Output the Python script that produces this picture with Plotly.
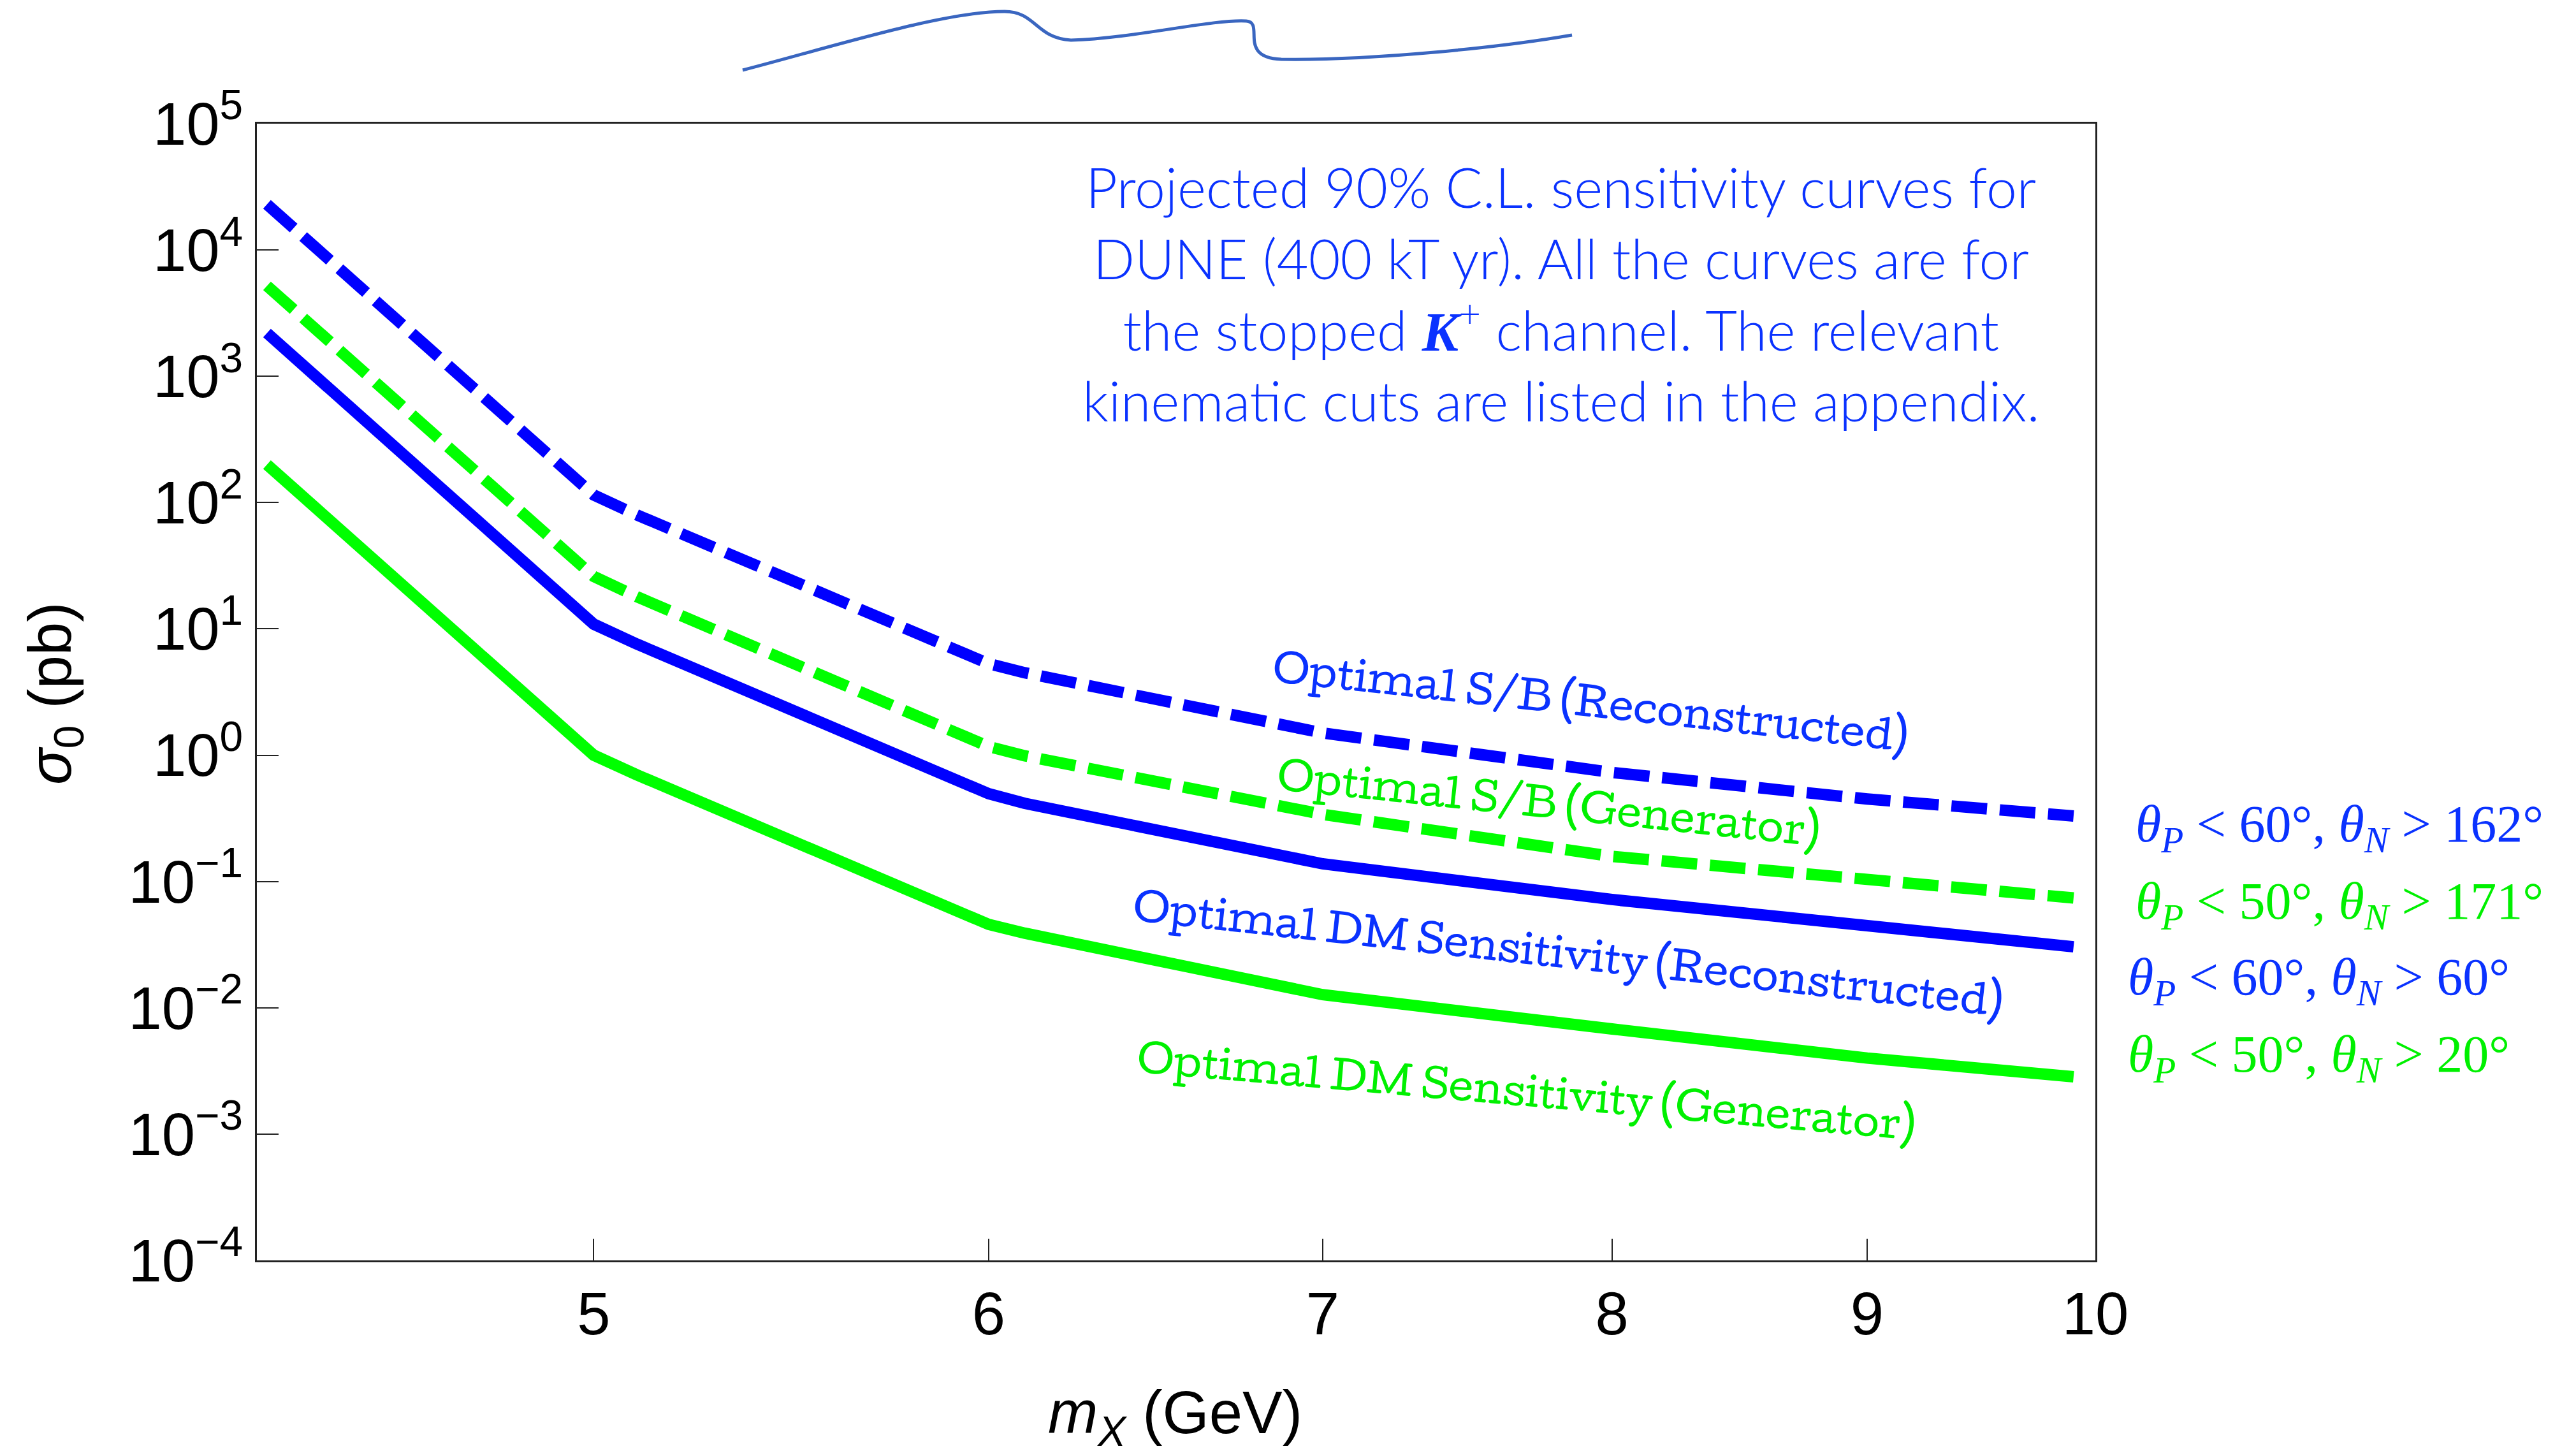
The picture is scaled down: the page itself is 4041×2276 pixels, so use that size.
import math
import plotly.graph_objects as go

# ---------------- data ----------------
mass_gev = [4.3, 5.0, 5.1, 5.9, 6.0, 6.1, 7.0, 8.0, 9.0, 9.9]
sb_reconstructed = [2.3e4, 115, 80, 7.0, 5.3, 4.5, 1.5, 0.73, 0.45, 0.33]
sb_generator = [5.2e3, 26, 18, 1.58, 1.17, 0.99, 0.34, 0.158, 0.102, 0.074]
dm_reconstructed = [2.2e3, 10.9, 7.6, 0.64, 0.495, 0.416, 0.138, 0.072, 0.0436, 0.0304]
dm_generator = [200, 1.0, 0.70, 0.059, 0.0457, 0.039, 0.0127, 0.0068, 0.0040, 0.00284]

x_tick_vals = [5, 6, 7, 8, 9, 10]
x_tick_text = ["5", "6", "7", "8", "9", "10"]
y_tick_vals = [1e-4, 1e-3, 1e-2, 1e-1, 1e0, 1e1, 1e2, 1e3, 1e4, 1e5]
y_tick_text = ["10<sup>−4</sup>", "10<sup>−3</sup>", "10<sup>−2</sup>", "10<sup>−1</sup>",
               "10<sup>0</sup>", "10<sup>1</sup>", "10<sup>2</sup>", "10<sup>3</sup>",
               "10<sup>4</sup>", "10<sup>5</sup>"]

curve_labels = ["Optimal S/B (Reconstructed)", "Optimal S/B (Generator)",
                "Optimal DM Sensitivity (Reconstructed)", "Optimal DM Sensitivity (Generator)"]
curve_label_mass = [7.92, 7.77, 7.84, 7.69]
curve_label_sigma = [2.67, 0.42, 0.027, 0.0022]
curve_label_angle = [6.3, 6.0, 6.3, 5.0]

cut_labels = ["<i>θ</i><sub><i>P</i></sub> &lt; 60°, <i>θ</i><sub><i>N</i></sub> &gt; 162°",
              "<i>θ</i><sub><i>P</i></sub> &lt; 50°, <i>θ</i><sub><i>N</i></sub> &gt; 171°",
              "<i>θ</i><sub><i>P</i></sub> &lt; 60°, <i>θ</i><sub><i>N</i></sub> &gt; 60°",
              "<i>θ</i><sub><i>P</i></sub> &lt; 50°, <i>θ</i><sub><i>N</i></sub> &gt; 20°"]

info_text = ("Projected 90% C.L. sensitivity curves for<br>"
             "DUNE (400 kT yr). All the curves are for<br>"
             "the stopped <span style=\"font-family:Liberation Serif\"><i><b>K</b></i></span><sup>+</sup> channel. The relevant<br>"
             "kinematic cuts are listed in the appendix.")

# ---------------- layout geometry ----------------
W, H = 4041, 2276
ML, MR, MT, MB = 403, 754, 194, 299
PW, PH = W - ML - MR, H - MT - MB

BLUE = "#0000ff"
GREEN = "#00ff00"
BLUE_TXT = "#0a32ff"
GREEN_TXT = "#00f000"


def paper(px, py):
    return (px - ML) / PW, (H - MB - py) / PH


fig = go.Figure()
series = [
    (sb_reconstructed, BLUE, "56px,20px"),
    (sb_generator, GREEN, "56px,20px"),
    (dm_reconstructed, BLUE, "solid"),
    (dm_generator, GREEN, "solid"),
]
for vals, col, dash in series:
    fig.add_trace(go.Scatter(x=mass_gev, y=vals, mode="lines",
                             line=dict(color=col, width=18, dash=dash),
                             showlegend=False, hoverinfo="skip"))

annotations = []
label_cols = [BLUE_TXT, GREEN_TXT, BLUE_TXT, GREEN_TXT]
for t, m, s, a, c in zip(curve_labels, curve_label_mass, curve_label_sigma, curve_label_angle, label_cols):
    annotations.append(dict(text=t, x=math.log10(m), y=math.log10(s), xref="x", yref="y",
                            showarrow=False, textangle=a, xanchor="center", yanchor="middle",
                            font=dict(family="Cutive, DejaVu Serif", size=60, color=c)))

cut_px = [(3348, 1298), (3348, 1419), (3336, 1538), (3336, 1659)]
cut_cols = [BLUE_TXT, GREEN_TXT, BLUE_TXT, GREEN_TXT]
for t, (px, py), c in zip(cut_labels, cut_px, cut_cols):
    xp, yp = paper(px, py)
    annotations.append(dict(text=t, x=xp, y=yp, xref="paper", yref="paper", showarrow=False,
                            xanchor="left", yanchor="middle",
                            font=dict(family="Liberation Serif", size=82, color=c)))

xp, yp = paper(2448, 460)
annotations.append(dict(text=info_text, x=xp, y=yp, xref="paper", yref="paper", showarrow=False,
                        xanchor="center", yanchor="middle", align="center",
                        font=dict(family="Lato", size=86, color=BLUE_TXT, weight=300)))

xp, yp = paper(85, 1088)
annotations.append(dict(text="<i>σ</i><sub>0</sub> (pb)", x=xp, y=yp, xref="paper", yref="paper",
                        showarrow=False, textangle=-90, xanchor="center", yanchor="middle",
                        font=dict(family="Liberation Sans", size=94, color="black")))
xp, yp = paper(1843, 2222)
annotations.append(dict(text="<i>m</i><sub><i>X</i></sub> (GeV)", x=xp, y=yp, xref="paper", yref="paper",
                        showarrow=False, xanchor="center", yanchor="middle",
                        font=dict(family="Liberation Sans", size=94, color="black")))

# hand-drawn squiggle at the top of the picture (decoration, pixel positions)
sq = [(1165, 110), (1300, 75), (1480, 18), (1576, 18), (1625, 18), (1625, 60), (1680, 63),
      (1780, 60), (1900, 30), (1955, 33), (1985, 35), (1940, 90), (2010, 93),
      (2150, 95), (2350, 75), (2466, 55)]
pp = [paper(*p) for p in sq]
path = "M {:.5f},{:.5f}".format(*pp[0])
for i in range(1, len(pp), 3):
    path += " C {:.5f},{:.5f} {:.5f},{:.5f} {:.5f},{:.5f}".format(*pp[i], *pp[i + 1], *pp[i + 2])

fig.update_layout(
    width=W, height=H, autosize=False,
    margin=dict(l=ML, r=MR, t=MT, b=MB),
    paper_bgcolor="white", plot_bgcolor="white",
    annotations=annotations,
    shapes=[dict(type="path", path=path, xref="paper", yref="paper",
                 line=dict(color="#3a66c0", width=5))],
    xaxis=dict(type="log", range=[math.log10(4.28), 1.0], tickvals=x_tick_vals, ticktext=x_tick_text,
               ticks="inside", ticklen=34, tickwidth=2, tickcolor="#222",
               showline=True, linecolor="#222", linewidth=3, mirror=True,
               showgrid=False, zeroline=False,
               tickfont=dict(family="Liberation Sans", size=94, color="black")),
    yaxis=dict(type="log", range=[-4, 5], tickvals=y_tick_vals, ticktext=y_tick_text,
               ticks="inside", ticklen=34, tickwidth=2, tickcolor="#222",
               showline=True, linecolor="#222", linewidth=3, mirror=True,
               showgrid=False, zeroline=False,
               tickfont=dict(family="Liberation Sans", size=94, color="black")),
)

fig.write_html("out.html")
